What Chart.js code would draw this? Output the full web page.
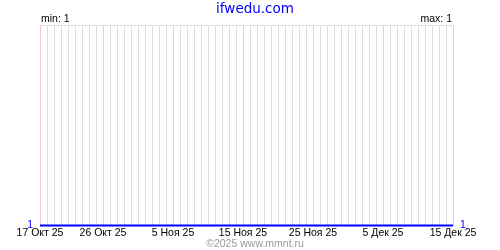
<!DOCTYPE html>
<html>
<head>
<meta charset="utf-8">
<script src="https://cdn.jsdelivr.net/npm/chart.js@4/dist/chart.umd.min.js"></script>
<style>
  html, body { margin: 0; padding: 0; background: #fff; }
  canvas { display: block; }
</style>
</head>
<body>
<canvas id="chart" width="500" height="250"></canvas>
<script>
// one point per day, 17 Oct 2025 .. 15 Dec 2025
const days = [
    '17 Окт 25', '18 Окт 25', '19 Окт 25', '20 Окт 25', '21 Окт 25', '22 Окт 25', '23 Окт 25', '24 Окт 25',
    '25 Окт 25', '26 Окт 25', '27 Окт 25', '28 Окт 25', '29 Окт 25', '30 Окт 25', '31 Окт 25',
    '1 Ноя 25', '2 Ноя 25', '3 Ноя 25', '4 Ноя 25', '5 Ноя 25', '6 Ноя 25', '7 Ноя 25', '8 Ноя 25',
    '9 Ноя 25', '10 Ноя 25', '11 Ноя 25', '12 Ноя 25', '13 Ноя 25', '14 Ноя 25', '15 Ноя 25',
    '16 Ноя 25', '17 Ноя 25', '18 Ноя 25', '19 Ноя 25', '20 Ноя 25', '21 Ноя 25', '22 Ноя 25',
    '23 Ноя 25', '24 Ноя 25', '25 Ноя 25', '26 Ноя 25', '27 Ноя 25', '28 Ноя 25', '29 Ноя 25', '30 Ноя 25',
    '1 Дек 25', '2 Дек 25', '3 Дек 25', '4 Дек 25', '5 Дек 25', '6 Дек 25', '7 Дек 25', '8 Дек 25',
    '9 Дек 25', '10 Дек 25', '11 Дек 25', '12 Дек 25', '13 Дек 25', '14 Дек 25', '15 Дек 25'
];

const positions = [
    1, 1, 1, 1, 1, 1, 1, 1, 1, 1, 1, 1, 1, 1, 1,
    1, 1, 1, 1, 1, 1, 1, 1, 1, 1, 1, 1, 1, 1, 1,
    1, 1, 1, 1, 1, 1, 1, 1, 1, 1, 1, 1, 1, 1, 1,
    1, 1, 1, 1, 1, 1, 1, 1, 1, 1, 1, 1, 1, 1, 1
];

const labelDays = ['17 Окт 25', '26 Окт 25', '5 Ноя 25', '15 Ноя 25', '25 Ноя 25', '5 Дек 25', '15 Дек 25'];
const yTicks = [1];

const FONT = "'Liberation Sans', Arial, sans-serif";
const BLUE = '#0000ff';
const GRID = '#dedede';
const PINK = '#ffc4c4';

// "min: 1" / "max: 1" above the plot area
const minMaxPlugin = {
    id: 'minMax',
    afterDraw(chart) {
        const ctx = chart.ctx;
        const area = chart.chartArea;
        ctx.save();
        ctx.font = '10.5px ' + FONT;
        ctx.fillStyle = '#000';
        ctx.textBaseline = 'alphabetic';
        ctx.textAlign = 'left';
        ctx.fillText('min: ' + Math.min(...positions), area.left + 1, area.top - 3);
        ctx.textAlign = 'right';
        ctx.fillText('max: ' + Math.max(...positions), area.right - 1, area.top - 3);
        ctx.restore();
    }
};

const yAxis = (pos, width) => ({
    type: 'linear',
    position: pos,
    min: 1,
    max: 2,
    afterBuildTicks: axis => { axis.ticks = [{ value: 1 }, { value: 2 }]; },
    afterFit: axis => { axis.width = width; },
    border: { display: false },
    grid: {
        display: pos === 'left',
        drawTicks: false,
        color: c => c.tick && c.tick.value === 2 ? GRID : 'rgba(0,0,0,0)'
    },
    ticks: {
        padding: 7,
        color: BLUE,
        font: { family: FONT, size: 10.5, lineHeight: 1 },
        callback: v => yTicks.includes(v) ? String(v) : ''
    }
});

new Chart(document.getElementById('chart'), {
    type: 'line',
    data: {
        labels: days,
        datasets: [{
            data: positions,
            yAxisID: 'y',
            borderColor: BLUE,
            borderWidth: 2,
            pointRadius: 0,
            tension: 0,
            clip: false
        }]
    },
    options: {
        responsive: false,
        animation: false,
        layout: { padding: { left: 10, right: 0, top: 0, bottom: 0 } },
        plugins: {
            legend: { display: false },
            tooltip: { enabled: false },
            title: {
                display: true,
                text: 'ifwedu.com',
                color: BLUE,
                font: { family: "'DejaVu Sans', sans-serif", size: 13.5, weight: 'normal', lineHeight: 1.2 },
                padding: { top: 1, bottom: 8 }
            },
            subtitle: {
                display: true,
                position: 'bottom',
                text: '©2025 www.mmnt.ru',
                color: '#999999',
                font: { family: FONT, size: 10.5, weight: 'normal', lineHeight: 1 },
                padding: { top: 0, bottom: 1 }
            }
        },
        scales: {
            x: {
                type: 'category',
                offset: false,
                afterFit: axis => { axis.height = 13; },
                border: { display: false },
                grid: {
                    drawTicks: false,
                    color: c => labelDays.includes(days[c.index]) ? PINK : GRID
                },
                ticks: {
                    autoSkip: false,
                    maxRotation: 0,
                    minRotation: 0,
                    padding: 2,
                    color: '#000',
                    font: { family: FONT, size: 10.5, lineHeight: 1 },
                    callback: (v, i) => labelDays.includes(days[i]) ? days[i] : ''
                }
            },
            y: yAxis('left', 30),
            y2: yAxis('right', 47)
        }
    },
    plugins: [minMaxPlugin]
});
</script>
</body>
</html>
